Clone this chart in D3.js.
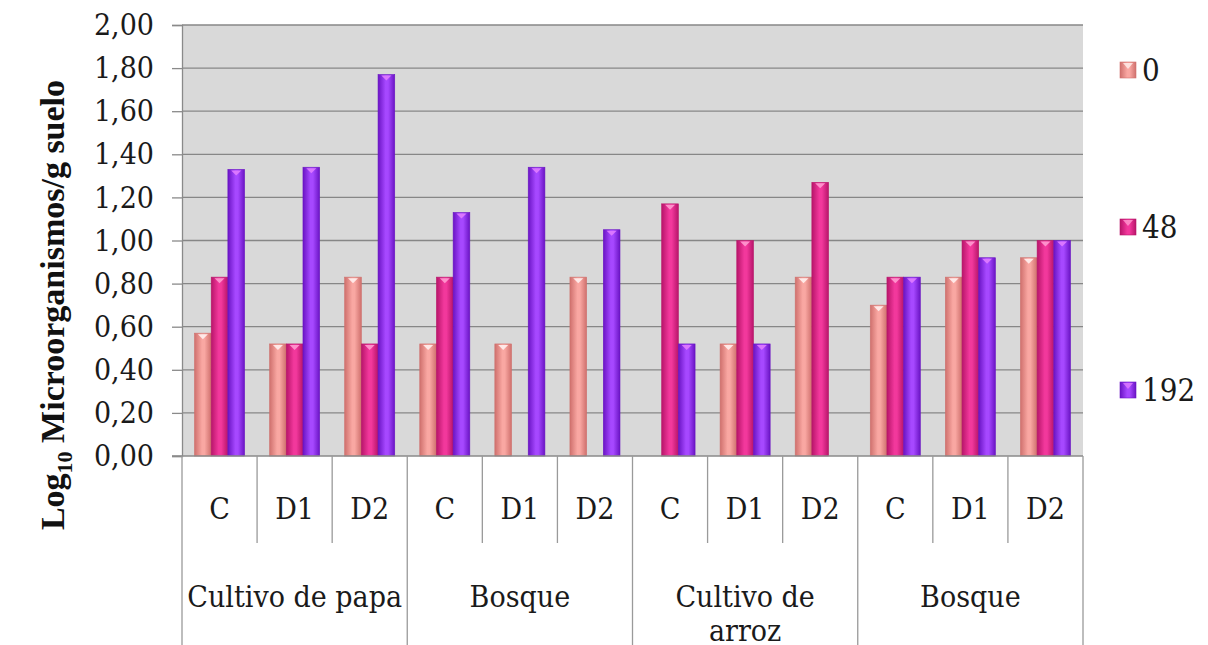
<!DOCTYPE html>
<html><head><meta charset="utf-8">
<script src="https://cdn.jsdelivr.net/npm/d3@7/dist/d3.min.js"></script>
<style>body{margin:0;background:#fff}svg{display:block}
.serif{font-family:"DejaVu Serif",serif;font-stretch:condensed;font-weight:normal}</style>
</head><body>
<script>
const groups = ["Cultivo de papa", "Bosque", "Cultivo de arroz", "Bosque"];
const subs = ["C", "D1", "D2"];
const seriesNames = ["0", "48", "192"];
const s0   = [0.57, 0.52, 0.83, 0.52, 0.52, 0.83, null, 0.52, 0.83, 0.70, 0.83, 0.92];
const s48  = [0.83, 0.52, 0.52, 0.83, null, null, 1.17, 1.00, 1.27, 0.83, 1.00, 1.00];
const s192 = [1.33, 1.34, 1.77, 1.13, 1.34, 1.05, 0.52, 0.52, null, 0.83, 0.92, 1.00];
const yTicks = [0, 0.2, 0.4, 0.6, 0.8, 1.0, 1.2, 1.4, 1.6, 1.8, 2.0];

const W = 1208, H = 645;
const L = 182, R = 1083, T = 25, B = 456;

const seriesVals = [s0, s48, s192];
const colors = [
  {edge:"#cf706d", mid:"#f9a7a2", tri:"#fff0ee"},
  {edge:"#b8156a", mid:"#f2389c", tri:"#ff9ad0"},
  {edge:"#6a14c4", mid:"#a648ff", tri:"#e07cff"}
];

const cats = d3.range(groups.length * subs.length);
const svg = d3.select("body").append("svg").attr("width", W).attr("height", H);
svg.append("rect").attr("width", W).attr("height", H).attr("fill", "#fff");

const defs = svg.append("defs");
colors.forEach((c, i) => {
  const g = defs.append("linearGradient").attr("id", "g" + i).attr("x1", "0").attr("x2", "1").attr("y1", "0").attr("y2", "0");
  g.append("stop").attr("offset", "0").attr("stop-color", c.edge);
  g.append("stop").attr("offset", "0.45").attr("stop-color", c.mid);
  g.append("stop").attr("offset", "0.6").attr("stop-color", c.mid);
  g.append("stop").attr("offset", "1").attr("stop-color", c.edge);
});

const x = d3.scaleBand().domain(cats).range([L, R]).paddingInner(0).paddingOuter(0);
const bw = x.bandwidth();
const x1 = d3.scaleBand().domain(seriesNames).range([bw * 0.75 / 4.5, bw - bw * 0.75 / 4.5]).padding(0);
const y = d3.scaleLinear().domain([0, 2]).range([B, T]);

svg.append("rect").attr("x", L).attr("y", T).attr("width", R - L).attr("height", B - T).attr("fill", "#d9d9d9");

svg.append("g").selectAll("line").data(yTicks.filter(d => d > 0)).join("line")
  .attr("x1", L).attr("x2", R).attr("y1", d => y(d)).attr("y2", d => y(d))
  .attr("stroke", "#878787").attr("stroke-width", 1.3);

const yAxis = d3.axisLeft(y).tickValues(yTicks).tickSize(10).tickPadding(18)
  .tickFormat(d => d3.format(".2f")(d).replace(".", ","));
const ya = svg.append("g").attr("transform", `translate(${L},0)`).call(yAxis)
  .attr("font-family", null).attr("font-size", null);
ya.select(".domain").attr("stroke", "#8a8a8a").attr("stroke-width", 1.3);
ya.selectAll(".tick line").attr("stroke", "#8a8a8a").attr("stroke-width", 1.3);
ya.selectAll(".tick text").attr("class", "serif").style("font-size", "30px").attr("fill", "#1a1a1a");

seriesVals.forEach((vals, si) => {
  const data = cats.map(i => ({i, v: vals[i]})).filter(d => d.v != null);
  const g = svg.append("g");
  g.selectAll("rect").data(data).join("rect")
    .attr("x", d => x(d.i) + x1(seriesNames[si]))
    .attr("y", d => y(d.v))
    .attr("width", x1.bandwidth())
    .attr("height", d => y(0) - y(d.v))
    .attr("fill", `url(#g${si})`)
    .attr("stroke", colors[si].edge).attr("stroke-width", 0.6);
  g.selectAll("path").data(data).join("path")
    .attr("d", d => {
      const bx = x(d.i) + x1(seriesNames[si]), w = x1.bandwidth(), ty = y(d.v);
      return `M${bx + w * 0.2},${ty + 1}L${bx + w * 0.8},${ty + 1}L${bx + w * 0.5},${ty + 6}Z`;
    })
    .attr("fill", colors[si].tri).attr("opacity", 0.9);
});

svg.append("line").attr("x1", L - 10).attr("x2", R).attr("y1", B).attr("y2", B)
  .attr("stroke", "#8a8a8a").attr("stroke-width", 1.3);

const sepColor = "#9a9a9a";
cats.forEach(i => {
  const isGroup = i % subs.length === 0;
  svg.append("line").attr("x1", x(i)).attr("x2", x(i)).attr("y1", B).attr("y2", isGroup ? H : 543)
    .attr("stroke", sepColor).attr("stroke-width", 1.3);
});
svg.append("line").attr("x1", R).attr("x2", R).attr("y1", B).attr("y2", H)
  .attr("stroke", sepColor).attr("stroke-width", 1.3);

svg.append("g").selectAll("text").data(cats).join("text")
  .attr("class", "serif")
  .attr("x", d => x(d) + bw / 2).attr("y", 519)
  .attr("text-anchor", "middle").style("font-size", "30px").attr("fill", "#1a1a1a")
  .text(d => subs[d % subs.length]);

groups.forEach((gname, gi) => {
  const cx = (x(gi * 3) + x(gi * 3 + 2) + bw) / 2;
  const lines = gname === "Cultivo de arroz" ? ["Cultivo de", "arroz"] : [gname];
  lines.forEach((ln, li) => {
    svg.append("text").attr("class", "serif").attr("x", cx).attr("y", li === 0 ? 607 : 641)
      .attr("text-anchor", "middle").style("font-size", "30px").attr("fill", "#1a1a1a").text(ln);
  });
});

const yt = svg.append("text").attr("font-family", "Liberation Serif").attr("transform", "translate(64,305) rotate(-90)")
  .attr("text-anchor", "middle").attr("font-size", 34).attr("font-weight", "bold").attr("fill", "#111");
yt.append("tspan").text("Log");
yt.append("tspan").attr("font-size", 22).attr("dy", 8).text("10");
yt.append("tspan").attr("dy", -8).text(" Microorganismos/g suelo");

const legY = [70, 227, 390];
const lg = svg.append("g");
seriesNames.forEach((n, i) => {
  lg.append("rect").attr("x", 1120).attr("y", legY[i] - 8).attr("width", 16).attr("height", 16)
    .attr("fill", `url(#g${i})`).attr("stroke", colors[i].edge).attr("stroke-width", 0.6);
  lg.append("path").attr("d", `M1123,${legY[i] - 7}L1133,${legY[i] - 7}L1128,${legY[i] - 1}Z`).attr("fill", colors[i].tri).attr("opacity", 0.8);
  lg.append("text").attr("class", "serif").attr("x", 1142).attr("y", legY[i] + 11).style("font-size", "31px").attr("fill", "#1a1a1a").text(n);
});
</script>
</body></html>
